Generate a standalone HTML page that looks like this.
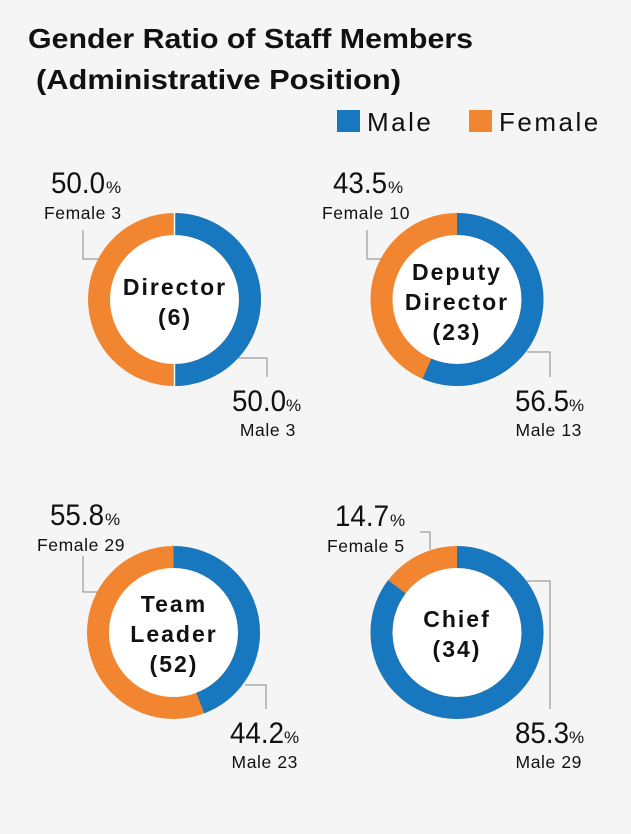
<!DOCTYPE html>
<html><head><meta charset="utf-8"><style>
html,body{margin:0;padding:0;background:#f5f5f5;}
svg{display:block;font-family:"Liberation Sans",sans-serif;}
.big{font-size:30px;fill:#111;}
.pc{font-size:17px;fill:#111;}
.lab{font-size:17.5px;fill:#111;letter-spacing:0.6px;}
.ctr{font-size:23px;font-weight:bold;fill:#111;letter-spacing:2px;}
.ln{stroke:#888;stroke-width:1;fill:none;}
</style></head><body>
<svg width="631" height="834" viewBox="0 0 631 834">
<rect width="631" height="834" fill="#f5f5f5"/>
<text x="28" y="48" font-size="28" font-weight="bold" fill="#111" textLength="445" lengthAdjust="spacingAndGlyphs">Gender Ratio of Staff Members</text>
<text x="36" y="89" font-size="28" font-weight="bold" fill="#111" textLength="365" lengthAdjust="spacingAndGlyphs">(Administrative Position)</text>
<rect x="337" y="110" width="23" height="22" fill="#1777bf"/>
<text x="367" y="131" font-size="26" fill="#111" letter-spacing="2.5">Male</text>
<rect x="469" y="110" width="23" height="22" fill="#f28530"/>
<text x="499" y="131" font-size="26" fill="#111" letter-spacing="2.5">Female</text>

<!-- Director -->
<g>
<circle cx="174.5" cy="299.5" r="86" fill="#fff"/>
<circle cx="174.5" cy="299.5" r="75.5" fill="none" stroke="#f28530" stroke-width="22"/>
<circle cx="174.5" cy="299.5" r="75.5" fill="none" stroke="#1777bf" stroke-width="22" stroke-dasharray="237.2 500" transform="rotate(-90 174.5 299.5)"/>
<line x1="174.5" y1="213" x2="174.5" y2="235" stroke="#fff" stroke-width="1.5"/>
<line x1="174.5" y1="364" x2="174.5" y2="386" stroke="#fff" stroke-width="1.5"/>
<polyline class="ln" points="83,230 83,259 98,259"/>
<polyline class="ln" points="237,358 267,358 267,377"/>
<text class="big" x="51" y="193" textLength="54" lengthAdjust="spacingAndGlyphs">50.0</text><text class="pc" x="106" y="193">%</text>
<text class="lab" x="44" y="219">Female 3</text>
<text class="big" x="232" y="411" textLength="54" lengthAdjust="spacingAndGlyphs">50.0</text><text class="pc" x="286" y="411">%</text>
<text class="lab" x="296" y="436" text-anchor="end">Male 3</text>
<text class="ctr" x="175" y="295" text-anchor="middle">Director</text>
<text class="ctr" x="175" y="325" text-anchor="middle">(6)</text>
</g>

<!-- Deputy -->
<g>
<circle cx="457" cy="299.5" r="86" fill="#fff"/>
<circle cx="457" cy="299.5" r="75.5" fill="none" stroke="#f28530" stroke-width="22"/>
<circle cx="457" cy="299.5" r="75.5" fill="none" stroke="#1777bf" stroke-width="22" stroke-dasharray="268 500" transform="rotate(-90 457 299.5)"/>
<polyline class="ln" points="367,230 367,259 382,259"/>
<polyline class="ln" points="527,352 550,352 550,377"/>
<text class="big" x="333" y="193" textLength="54" lengthAdjust="spacingAndGlyphs">43.5</text><text class="pc" x="388" y="193">%</text>
<text class="lab" x="322" y="219">Female 10</text>
<text class="big" x="515" y="411" textLength="54" lengthAdjust="spacingAndGlyphs">56.5</text><text class="pc" x="569" y="411">%</text>
<text class="lab" x="582" y="436" text-anchor="end">Male 13</text>
<text class="ctr" x="457" y="280" text-anchor="middle">Deputy</text>
<text class="ctr" x="457" y="310" text-anchor="middle">Director</text>
<text class="ctr" x="457" y="340" text-anchor="middle">(23)</text>
</g>

<!-- Team Leader -->
<g>
<circle cx="173.5" cy="632.5" r="86" fill="#fff"/>
<circle cx="173.5" cy="632.5" r="75.5" fill="none" stroke="#f28530" stroke-width="22"/>
<circle cx="173.5" cy="632.5" r="75.5" fill="none" stroke="#1777bf" stroke-width="22" stroke-dasharray="209.7 500" transform="rotate(-90 173.5 632.5)"/>
<polyline class="ln" points="83,556 83,592 98,592"/>
<polyline class="ln" points="245,685 266,685 266,709"/>
<text class="big" x="50" y="525" textLength="54" lengthAdjust="spacingAndGlyphs">55.8</text><text class="pc" x="105" y="525">%</text>
<text class="lab" x="37" y="551">Female 29</text>
<text class="big" x="230" y="743" textLength="54" lengthAdjust="spacingAndGlyphs">44.2</text><text class="pc" x="284" y="743">%</text>
<text class="lab" x="298" y="768" text-anchor="end">Male 23</text>
<text class="ctr" x="174" y="612" text-anchor="middle">Team</text>
<text class="ctr" x="174" y="642" text-anchor="middle">Leader</text>
<text class="ctr" x="174" y="672" text-anchor="middle">(52)</text>
</g>

<!-- Chief -->
<g>
<circle cx="457" cy="632.5" r="86" fill="#fff"/>
<circle cx="457" cy="632.5" r="75.5" fill="none" stroke="#f28530" stroke-width="22"/>
<circle cx="457" cy="632.5" r="75.5" fill="none" stroke="#1777bf" stroke-width="22" stroke-dasharray="404.7 500" transform="rotate(-90 457 632.5)"/>
<polyline class="ln" points="420,532 430,532 430,550"/>
<polyline class="ln" points="527,581 550,581 550,709"/>
<text class="big" x="335" y="526" textLength="54" lengthAdjust="spacingAndGlyphs">14.7</text><text class="pc" x="390" y="526">%</text>
<text class="lab" x="327" y="552">Female 5</text>
<text class="big" x="515" y="743" textLength="54" lengthAdjust="spacingAndGlyphs">85.3</text><text class="pc" x="569" y="743">%</text>
<text class="lab" x="582" y="768" text-anchor="end">Male 29</text>
<text class="ctr" x="457" y="627" text-anchor="middle">Chief</text>
<text class="ctr" x="457" y="657" text-anchor="middle">(34)</text>
</g>
</svg>
</body></html>
